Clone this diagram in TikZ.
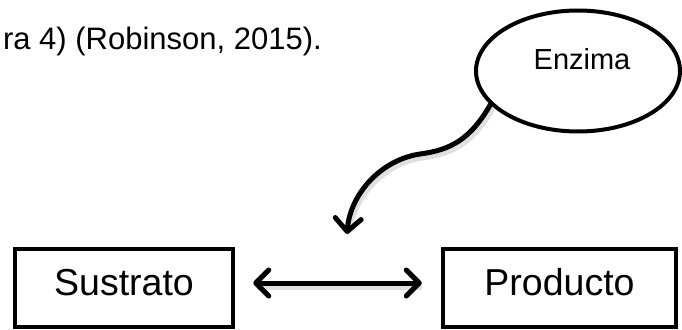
\documentclass[tikz,border=0pt]{standalone}
\usepackage{fontspec}
\setmainfont{Liberation Sans}
\usetikzlibrary{arrows.meta,shapes.geometric}
\tikzset{barbtip/.tip={Straight Barb[length=13pt,width=26pt,round]}}
\begin{document}
\begin{tikzpicture}[x=1pt,y=-1pt,
  boxsty/.style={draw, line width=4.5pt, minimum height=78pt, inner sep=0pt,
    text height=27pt, text depth=12pt, font=\fontsize{37.5}{40}\selectfont},
  arrowsty/.style={line width=5pt, line cap=round},
  shadowsty/.style={draw=black!35, opacity=0.35, line width=7pt,
    transform canvas={shift={(2pt,-3pt)}}}]
\useasboundingbox (0,0) rectangle (682,329);
% top text
\node[anchor=base east, inner sep=0pt, font=\fontsize{31}{34}\selectfont] (cite) at (322,49) {ra 4) (Robinson, 2015).};
% ellipse
\node[ellipse, draw, line width=4pt, minimum width=204pt, minimum height=121pt, inner sep=0pt] (e) at (578,71) {};
\node[inner sep=0pt, font=\fontsize{29}{32}\selectfont] (et) at (582,59) {Enzima};
% boxes
\node[boxsty, minimum width=218pt] (s) at (124,288) {Sustrato};
\node[boxsty, minimum width=233pt] (p) at (559.5,288) {Producto};
% double arrow
\draw[shadowsty, shorten <=20pt, shorten >=21pt] ([yshift=5pt]s.east) -- ([yshift=5pt]p.west);
\draw[arrowsty, barbtip-barbtip, shorten <=18pt, shorten >=19pt] ([yshift=5pt]s.east) -- ([yshift=5pt]p.west);
% curved arrow
\coordinate (tip) at (347,234);
\draw[shadowsty, shorten >=6pt] (e.201) .. controls (470,140) and (450,150) .. (420,154) .. controls (380,160) and (350,195) .. (tip);
\draw[arrowsty, -barbtip] (e.201) .. controls (470,140) and (450,150) .. (420,154) .. controls (380,160) and (350,195) .. (tip);
\end{tikzpicture}
\end{document}
